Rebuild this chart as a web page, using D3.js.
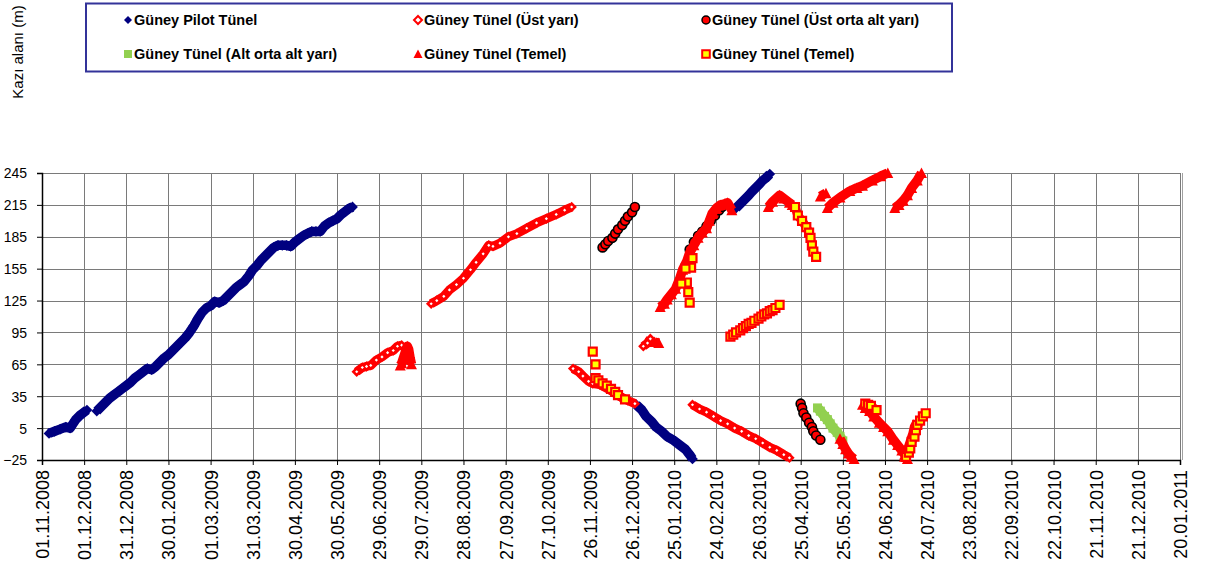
<!DOCTYPE html>
<html><head><meta charset="utf-8">
<script src="https://cdn.jsdelivr.net/npm/d3@7"></script>
<style>body{margin:0;background:#fff}svg{display:block}text{font-family:"Liberation Sans",Arial,sans-serif}</style>
</head><body><svg id="c" width="1207" height="574"></svg>
<script>
const tickLabels = ["01.11.2008","01.12.2008","31.12.2008","30.01.2009","01.03.2009","31.03.2009","30.04.2009","30.05.2009","29.06.2009","29.07.2009","28.08.2009","27.09.2009","27.10.2009","26.11.2009","26.12.2009","25.01.2010","24.02.2010","26.03.2010","25.04.2010","25.05.2010","24.06.2010","24.07.2010","23.08.2010","22.09.2010","22.10.2010","21.11.2010","21.12.2010","20.01.2011"];
const yTicks = [-25,5,35,65,95,125,155,185,215,245];
const seriesNames = ["Güney Pilot Tünel","Güney Tünel (Üst yarı)","Güney Tünel (Üst orta alt yarı)","Güney Tünel (Alt orta alt yarı)","Güney Tünel (Temel)","Güney Tünel (Temel)"];

// Güney Pilot Tünel
const pilotTunel = [
 [["06.11.2008",0],["10.11.2008",2],["14.11.2008",4],["18.11.2008",6],["21.11.2008",5],["23.11.2008",9],["25.11.2008",13],["28.11.2008",17],["30.11.2008",19],["03.12.2008",22]],
 [["10.12.2008",21],["13.12.2008",25],["16.12.2008",29],["19.12.2008",33],["22.12.2008",36],["25.12.2008",39],["28.12.2008",42],["31.12.2008",45],["03.01.2009",48],["06.01.2009",52],["09.01.2009",55],["12.01.2009",58],["15.01.2009",61],["18.01.2009",60],["21.01.2009",63],["24.01.2009",67],["27.01.2009",71],["30.01.2009",74],["02.02.2009",78],["05.02.2009",82],["08.02.2009",86],["11.02.2009",90],["14.02.2009",95],["17.02.2009",101],["20.02.2009",108],["23.02.2009",114],["26.02.2009",118],["01.03.2009",120],["04.03.2009",124],["07.03.2009",123],["10.03.2009",125],["13.03.2009",129],["16.03.2009",133],["19.03.2009",137],["22.03.2009",140],["25.03.2009",143],["28.03.2009",148],["31.03.2009",154],["03.04.2009",158],["06.04.2009",163],["09.04.2009",167],["12.04.2009",171],["15.04.2009",175],["18.04.2009",177],["21.04.2009",177],["24.04.2009",177],["27.04.2009",176],["30.04.2009",180],["03.05.2009",183],["06.05.2009",186],["09.05.2009",188],["12.05.2009",190],["15.05.2009",190],["18.05.2009",190],["21.05.2009",195],["24.05.2009",198],["27.05.2009",200],["30.05.2009",202],["02.06.2009",206],["05.06.2009",209],["08.06.2009",212],["10.06.2009",213]],
 [["29.12.2009",27],["02.01.2010",22],["05.01.2010",16],["09.01.2010",11],["12.01.2010",6],["16.01.2010",2],["20.01.2010",-3],["24.01.2010",-6],["29.01.2010",-11],["02.02.2010",-15],["05.02.2010",-20],["07.02.2010",-24]],
 [["10.03.2010",212],["13.03.2010",216],["16.03.2010",220],["19.03.2010",224],["21.03.2010",227],["24.03.2010",231],["27.03.2010",235],["29.03.2010",238],["31.03.2010",240],["03.04.2010",244]]
];
// Güney Tünel (Üst yarı)
const ustYari = [
 [["13.06.2009",58],["17.06.2009",62],["20.06.2009",63],["23.06.2009",64],["27.06.2009",69],["01.07.2009",72],["05.07.2009",76],["09.07.2009",78],["12.07.2009",82],["15.07.2009",83]],
 [["05.08.2009",122],["09.08.2009",125],["14.08.2009",129],["18.08.2009",135],["23.08.2009",140],["28.08.2009",146],["02.09.2009",154],["06.09.2009",161],["11.09.2009",169],["15.09.2009",177],["18.09.2009",176],["23.09.2009",179],["29.09.2009",185],["05.10.2009",188],["12.10.2009",193],["19.10.2009",198],["26.10.2009",202],["02.11.2009",206],["08.11.2009",210],["13.11.2009",213]],
 [["14.11.2009",61],["18.11.2009",58],["21.11.2009",54],["25.11.2009",49],["28.11.2009",47],["03.12.2009",46],["10.12.2009",41],["17.12.2009",35],["23.12.2009",31],["28.12.2009",28]],
 [["03.01.2010",82],["06.01.2010",85],["08.01.2010",89]],
 [["07.02.2010",27],["12.02.2010",23],["17.02.2010",20],["22.02.2010",16],["27.02.2010",12],["04.03.2010",9],["09.03.2010",5],["14.03.2010",2],["19.03.2010",-2],["24.03.2010",-5],["29.03.2010",-9],["03.04.2010",-13],["08.04.2010",-16],["13.04.2010",-20],["17.04.2010",-23]]
];
// Güney Tünel (Üst orta alt yarı)
const ustOrtaAltYari = [
 [["05.12.2009",175],["07.12.2009",178],["09.12.2009",181],["12.12.2009",184],["14.12.2009",188],["16.12.2009",192],["19.12.2009",196],["21.12.2009",200],["23.12.2009",204],["26.12.2009",208],["28.12.2009",213]],
 [["05.02.2010",173],["08.02.2010",180],["11.02.2010",186],["14.02.2010",190],["17.02.2010",195],["20.02.2010",200],["23.02.2010",205],["26.02.2010",210],["28.02.2010",213]],
 [["25.04.2010",28],["26.04.2010",24],["27.04.2010",19],["29.04.2010",15],["01.05.2010",10],["03.05.2010",6],["04.05.2010",2],["06.05.2010",-2],["09.05.2010",-6]]
];
// Güney Tünel (Alt orta alt yarı)
const altOrtaAltYari = [
 [["07.05.2010",24],["09.05.2010",21],["12.05.2010",16],["14.05.2010",13],["16.05.2010",9],["18.05.2010",5],["21.05.2010",1],["23.05.2010",-3],["25.05.2010",-7]]
];
// Güney Tünel (Temel) - triangles
const temelUcgen = [
 [["14.07.2009",64],["15.07.2009",66],["16.07.2009",70],["17.07.2009",74],["18.07.2009",78],["19.07.2009",82],["20.07.2009",79],["21.07.2009",71],["22.07.2009",65]],
 [["11.01.2010",86],["14.01.2010",85]],
 [["15.01.2010",119],["18.01.2010",122],["20.01.2010",126],["23.01.2010",131],["26.01.2010",136],["29.01.2010",146],["31.01.2010",154],["03.02.2010",162],["05.02.2010",170],["08.02.2010",177],["11.02.2010",184],["14.02.2010",189],["17.02.2010",193],["19.02.2010",200],["21.02.2010",207],["24.02.2010",212],["27.02.2010",215],["02.03.2010",216],["04.03.2010",217],["07.03.2010",210]],
 [["02.04.2010",213],["05.04.2010",218],["10.04.2010",224],["13.04.2010",221],["17.04.2010",217],["19.04.2010",215]],
 [["09.05.2010",223],["13.05.2010",226]],
 [["14.05.2010",212],["18.05.2010",217],["23.05.2010",222],["30.05.2010",228],["04.06.2010",231],["08.06.2010",233],["15.06.2010",238],["21.06.2010",242],["26.06.2010",245]],
 [["01.07.2010",212],["04.07.2010",215],["07.07.2010",219],["10.07.2010",224],["13.07.2010",231],["17.07.2010",238],["20.07.2010",245]],
 [["23.05.2010",-5],["25.05.2010",-10],["27.05.2010",-15],["29.05.2010",-19],["31.05.2010",-22],["02.06.2010",-24]],
 [["08.06.2010",27],["10.06.2010",24],["13.06.2010",21],["16.06.2010",16],["20.06.2010",10],["23.06.2010",6],["26.06.2010",2],["30.06.2010",-6],["03.07.2010",-11],["06.07.2010",-16],["08.07.2010",-20],["10.07.2010",-24]],
 [["08.07.2010",-22],["10.07.2010",-16],["12.07.2010",-8],["14.07.2010",0],["15.07.2010",6],["17.07.2010",11]]
];
// Güney Tünel (Temel) - squares
const temelKare = [
 [["28.11.2009",77]],
 [["30.11.2009",65]],
 [["30.11.2009",52],["02.12.2009",50],["05.12.2009",47],["08.12.2009",45],["11.12.2009",42],["14.12.2009",39],["16.12.2009",36],["21.12.2009",32]],
 [["07.02.2010",165]],[["06.02.2010",156]],[["02.02.2010",155]],[["03.02.2010",142]],[["30.01.2010",141]],[["04.02.2010",133]],[["05.02.2010",123]],
 [["06.03.2010",91],["08.03.2010",93],["10.03.2010",95],["13.03.2010",97],["15.03.2010",99],["17.03.2010",101],["19.03.2010",103],["21.03.2010",104],["23.03.2010",106],["26.03.2010",108],["28.03.2010",110],["30.03.2010",112],["01.04.2010",113],["03.04.2010",115],["05.04.2010",116],["07.04.2010",118],["10.04.2010",121]],
 [["21.04.2010",213],["23.04.2010",205],["26.04.2010",200],["29.04.2010",194],["01.05.2010",189],["02.05.2010",184],["03.05.2010",177],["04.05.2010",171],["06.05.2010",166]],
 [["10.06.2010",28],["12.06.2010",27],["14.06.2010",26],["18.06.2010",22]],
 [["09.07.2010",-22],["11.07.2010",-18],["12.07.2010",-14],["13.07.2010",-8],["15.07.2010",-3],["16.07.2010",3],["17.07.2010",8],["19.07.2010",12],["21.07.2010",16],["23.07.2010",19]]
];

const parse = d3.timeParse("%d.%m.%Y");
const svg = d3.select("#c");
const L = 42, R = 1180, T = 173, B = 460;
const x = d3.scaleTime().domain([parse(tickLabels[0]), parse(tickLabels[tickLabels.length-1])]).range([L, R]);
const y = d3.scaleLinear().domain([-25, 245]).range([B, T]);

// grid
const g = svg.append("g");
g.selectAll(".vg").data(tickLabels).join("line")
 .attr("x1", d => Math.round(x(parse(d))) + 0.5).attr("x2", d => Math.round(x(parse(d))) + 0.5)
 .attr("y1", T).attr("y2", B).attr("stroke", "#7a7a7a").attr("stroke-width", 1);
g.selectAll(".hg").data(yTicks).join("line")
 .attr("y1", d => Math.round(y(d)) + 0.5).attr("y2", d => Math.round(y(d)) + 0.5)
 .attr("x1", L).attr("x2", R).attr("stroke", "#7a7a7a").attr("stroke-width", 1);
g.append("line").attr("x1", R + 2.5).attr("x2", R + 2.5).attr("y1", T).attr("y2", B).attr("stroke", "#a0a0a0");

// axes
const yAxis = d3.axisLeft(y).tickValues(yTicks).tickSize(5).tickFormat(d3.format("d"));
const ya = svg.append("g").attr("transform", `translate(${L},0)`).call(yAxis);
ya.select(".domain").attr("stroke", "#000").attr("stroke-width", 1.5);
ya.selectAll(".tick line").attr("stroke", "#000");
ya.selectAll(".tick text").attr("font-size", 14).attr("fill", "#000").attr("x", -15).attr("dy", "0.35em")
 .style("font-family", '"Liberation Sans",Arial,sans-serif');

const xAxis = d3.axisBottom(x).tickValues(tickLabels.map(parse)).tickSize(5).tickFormat(d3.timeFormat("%d.%m.%Y"));
const xa = svg.append("g").attr("transform", `translate(0,${B})`).call(xAxis);
xa.select(".domain").attr("stroke", "#000").attr("stroke-width", 1.5);
xa.selectAll(".tick line").attr("stroke", "#000");
xa.selectAll(".tick text").attr("font-size", 18).attr("fill", "#000")
 .attr("transform", "rotate(-90)").attr("text-anchor", "end").attr("x", -10).attr("y", 0).attr("dy", "0.36em")
 .style("font-family", '"Liberation Sans",Arial,sans-serif');

// y title
svg.append("text").attr("transform", "translate(23,52) rotate(-90)").attr("text-anchor", "middle")
 .attr("font-size", 15).text("Kazı alanı (m)");

// markers
const shapes = {
 diamond: r => `M0,${-r}L${r},0L0,${r}L${-r},0Z`,
 triangle: r => `M0,${-r-0.5}L${r+0.5},${r}L${-r-0.5},${r}Z`,
 square: r => `M${-r},${-r}H${r}V${r}H${-r}Z`,
 circle: r => d3.symbol(d3.symbolCircle, Math.PI * r * r)()
};
const styles = [
 {data: pilotTunel, shape: "diamond", r: 5.4, fill: "#000080", stroke: "none", sw: 0, line: "#000080", lw: 9.5},
 {data: ustYari, shape: "diamond", r: 5.2, fill: "#ff0000", stroke: "none", sw: 0, line: "#ff0000", lw: 9, dot: "#ffffff"},
 {data: ustOrtaAltYari, shape: "circle", r: 4.5, fill: "#ff0000", stroke: "#000000", sw: 1.6, line: null, lw: 0},
 {data: altOrtaAltYari, shape: "square", r: 4.5, fill: "#92d050", stroke: "none", sw: 0, line: "#92d050", lw: 10},
 {data: temelUcgen, shape: "triangle", r: 5, fill: "#ff0000", stroke: "none", sw: 0, line: "#ff0000", lw: 9.5},
 {data: temelKare, shape: "square", r: 4, fill: "#ffff00", stroke: "#ff0000", sw: 2.2, line: "#ff0000", lw: 9}
];
const line = d3.line().x(d => x(parse(d[0]))).y(d => y(d[1])).curve(d3.curveLinear);
const plot = svg.append("g");
styles.forEach(s => {
 const sg = plot.append("g");
 if (s.line) {
  sg.selectAll("path.ln").data(s.data.filter(seg => seg.length > 1)).join("path").attr("class", "ln")
   .attr("d", line).attr("fill", "none").attr("stroke", s.line).attr("stroke-width", s.lw)
   .attr("stroke-linejoin", "round").attr("stroke-linecap", "butt");
 }
 sg.selectAll("path.mk").data(s.data.flat()).join("path").attr("class", "mk")
  .attr("transform", d => `translate(${x(parse(d[0]))},${y(d[1])})`)
  .attr("d", shapes[s.shape](s.r)).attr("fill", s.fill).attr("stroke", s.stroke).attr("stroke-width", s.sw);
 if (s.dot) {
  sg.selectAll("path.dt").data(s.data.flat()).join("path").attr("class", "dt")
   .attr("transform", d => `translate(${x(parse(d[0]))},${y(d[1])})`)
   .attr("d", shapes.diamond(1.6)).attr("fill", s.dot);
 }
});

// legend
const lg = svg.append("g");
lg.append("rect").attr("x", 86).attr("y", 3.5).attr("width", 866).attr("height", 68)
 .attr("fill", "#fff").attr("stroke", "#333399").attr("stroke-width", 2);
const legPos = [[128,20],[418,20],[706,20],[128,54],[418,54],[706,54]];
const legMarks = [
 {shape: "diamond", r: 4, fill: "#000080", stroke: "none", sw: 0},
 {shape: "diamond", r: 4, fill: "#ffffff", stroke: "#ff0000", sw: 2},
 {shape: "circle", r: 4, fill: "#ff0000", stroke: "#000000", sw: 1.5},
 {shape: "square", r: 4, fill: "#92d050", stroke: "none", sw: 0},
 {shape: "triangle", r: 4, fill: "#ff0000", stroke: "none", sw: 0},
 {shape: "square", r: 3.8, fill: "#ffff00", stroke: "#ff0000", sw: 2}
];
legMarks.forEach((m, i) => {
 const [lx, ly] = legPos[i];
 lg.append("path").attr("transform", `translate(${lx},${ly})`).attr("d", shapes[m.shape](m.r))
  .attr("fill", m.fill).attr("stroke", m.stroke).attr("stroke-width", m.sw);
 lg.append("text").attr("x", lx + 6).attr("y", ly).attr("dy", "0.36em").attr("font-size", 14.5)
  .attr("font-weight", "bold").text(seriesNames[i]);
});
</script></body></html>
